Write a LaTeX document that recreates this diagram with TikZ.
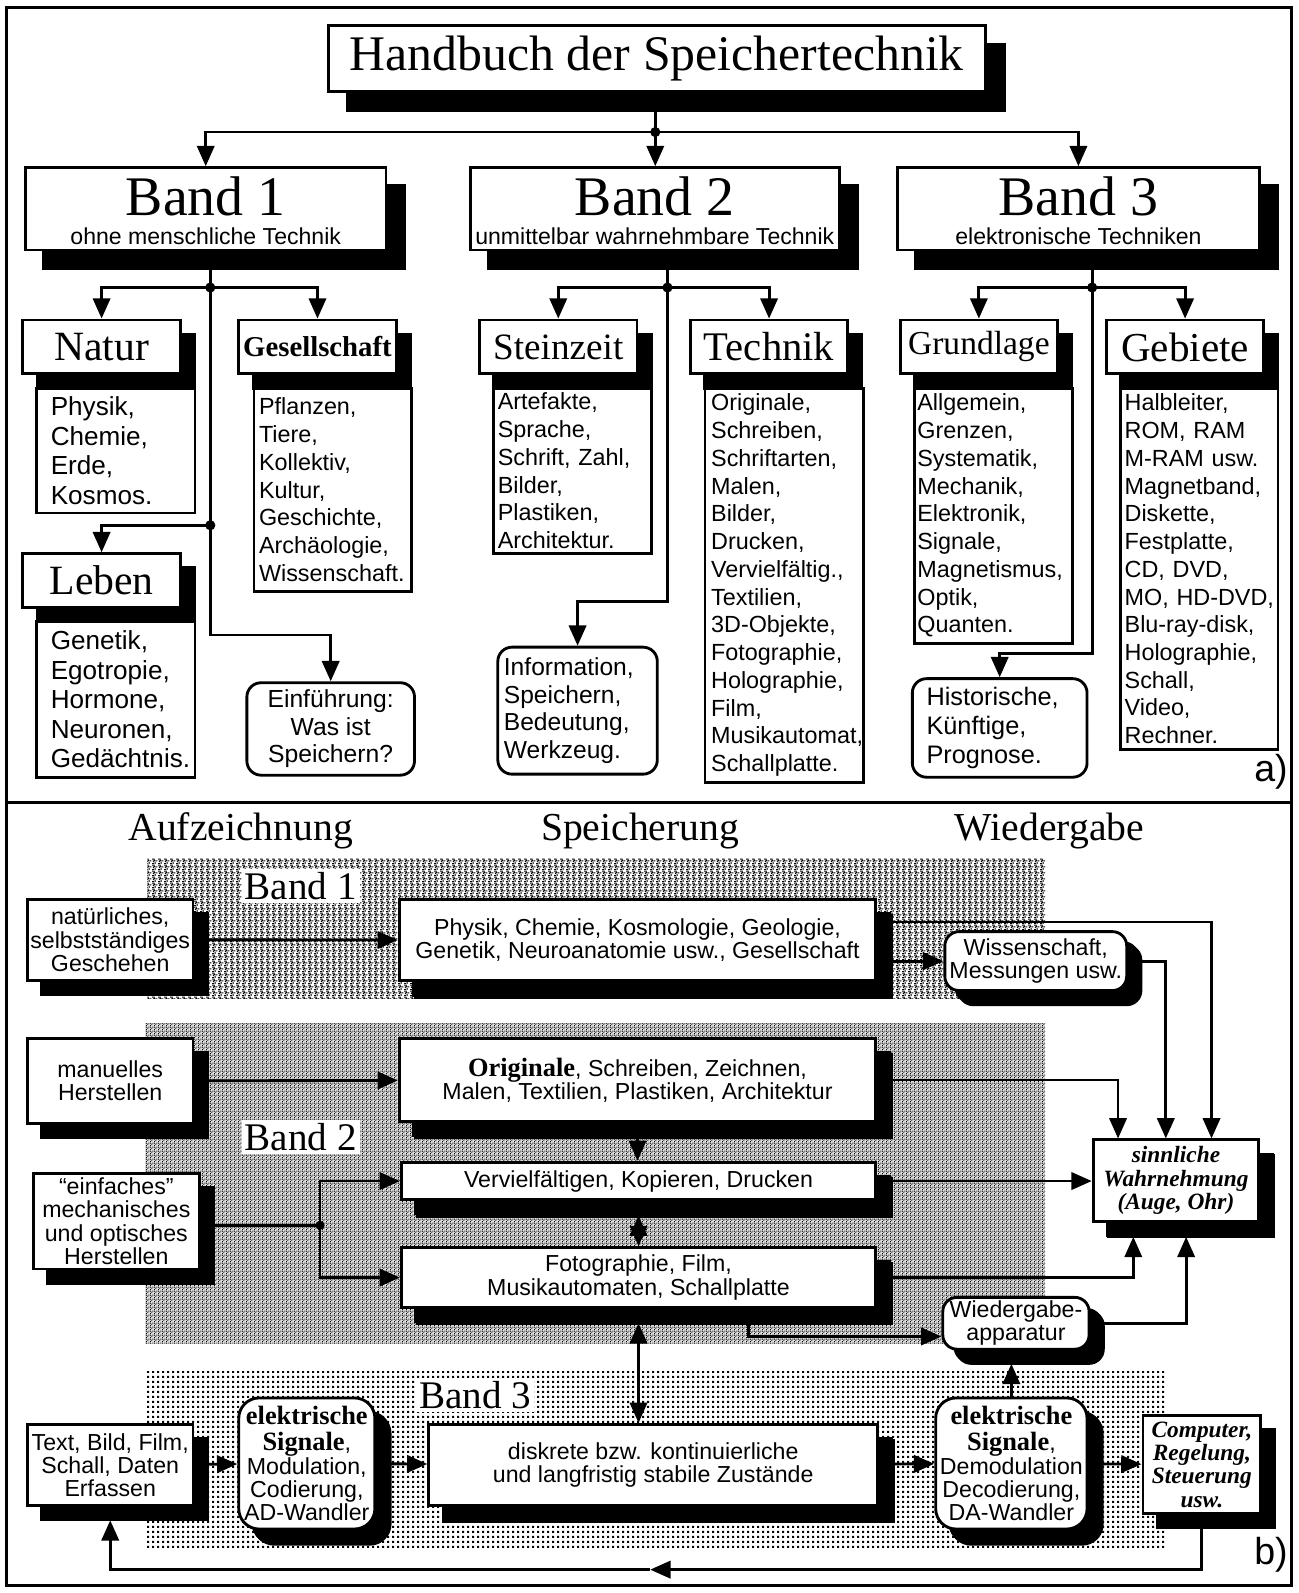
\documentclass[tikz,border=0pt]{standalone}
\usepackage{fontspec}
\setmainfont{Liberation Sans}
\newfontfamily\timesfont{Liberation Serif}
\usetikzlibrary{arrows.meta,patterns}

\pgfdeclarepatternformonly{gridpoints}{\pgfqpoint{0pt}{0pt}}{\pgfqpoint{5pt}{5pt}}{\pgfqpoint{5pt}{5pt}}{%
\pgfpathrectangle{\pgfqpoint{0pt}{0pt}}{\pgfqpoint{2.6pt}{2.6pt}}\pgfusepath{fill}}
\pgfdeclarepatternformonly{finegrain}{\pgfqpoint{0pt}{0pt}}{\pgfqpoint{4pt}{4pt}}{\pgfqpoint{4pt}{4pt}}{%
\pgfpathrectangle{\pgfqpoint{0pt}{0pt}}{\pgfqpoint{1pt}{1pt}}
\pgfpathrectangle{\pgfqpoint{2pt}{1pt}}{\pgfqpoint{1pt}{1pt}}
\pgfpathrectangle{\pgfqpoint{1pt}{2pt}}{\pgfqpoint{1pt}{1pt}}
\pgfpathrectangle{\pgfqpoint{3pt}{3pt}}{\pgfqpoint{1pt}{1pt}}
\pgfpathrectangle{\pgfqpoint{0pt}{3pt}}{\pgfqpoint{1pt}{1pt}}
\pgfusepath{fill}}
\pgfdeclarepatternformonly{speckle}{\pgfqpoint{0pt}{0pt}}{\pgfqpoint{6pt}{6pt}}{\pgfqpoint{6pt}{6pt}}{%
\pgfpathrectangle{\pgfqpoint{0pt}{0pt}}{\pgfqpoint{2pt}{1pt}}
\pgfpathrectangle{\pgfqpoint{3pt}{0pt}}{\pgfqpoint{1pt}{2pt}}
\pgfpathrectangle{\pgfqpoint{1pt}{2pt}}{\pgfqpoint{1pt}{2pt}}
\pgfpathrectangle{\pgfqpoint{4pt}{3pt}}{\pgfqpoint{2pt}{1pt}}
\pgfpathrectangle{\pgfqpoint{0pt}{5pt}}{\pgfqpoint{3pt}{1pt}}
\pgfpathrectangle{\pgfqpoint{2.5pt}{3pt}}{\pgfqpoint{1pt}{1.5pt}}
\pgfusepath{fill}}

\begin{document}
\begin{tikzpicture}[x=1pt,y=-1pt,line width=2.8pt,>={Triangle[length=20pt,width=17pt]}]
\tikzset{box/.style={draw,fill=white,inner sep=0pt,align=center}}
\tikzset{dropped/.style={preaction={fill=black,draw=black,transform canvas={shift={(#1,-#1)}}}},dropped/.default=14pt}
\tikzset{hdr/.style={box,dropped,minimum width=155pt,minimum height=53pt}}
\tikzset{entries/.style={box,align=left,font=\fontsize{23}{27.3}\selectfont\hyphenpenalty10000\relax}}
\tikzset{notebox/.style={box,rounded corners=14pt}}
\tikzset{bandbox/.style={box,dropped=18pt,minimum height=81pt,text height=71pt,text depth=0pt,font=\timesfont\fontsize{55}{29}\selectfont}}
\tikzset{coltitle/.style={font=\timesfont\fontsize{39}{39}\selectfont}}
\tikzset{flowbox/.style={box,dropped,font=\fontsize{22.8}{22.8}\selectfont}}
\tikzset{bandlabel/.style={fill=white,inner sep=3pt,font=\timesfont\fontsize{38.5}{38.5}\selectfont}}
\tikzset{bandone/.style={fill=white,postaction={pattern=speckle}}}
\tikzset{bandtwo/.style={fill=gray!22,postaction={pattern=finegrain}}}
\tikzset{bandthree/.style={pattern=gridpoints}}

\useasboundingbox (0,0) rectangle (1278,1568);
\draw[line width=3pt] (6,7) rectangle (1271,1561);
\draw[line width=3pt] (6,790) -- (1271,790);

\node[box,dropped=19pt,minimum width=647pt,minimum height=65pt,font=\timesfont\fontsize{49}{49}\selectfont] (title) at (646.5,57.5) {Handbuch der Speichertechnik};

\node[bandbox,minimum width=355pt] (band1) at (202.5,205.5) {Band 1\\{\fontsize{22.7}{22.7}\rmfamily\selectfont ohne menschliche Technik}};
\node[bandbox,minimum width=363pt] (band2) at (644.5,205.5) {Band 2\\{\fontsize{22.7}{22.7}\rmfamily\selectfont unmittelbar wahrnehmbare Technik}};
\node[bandbox,minimum width=357pt] (band3) at (1061.5,205.5) {Band 3\\{\fontsize{22.7}{22.7}\rmfamily\selectfont elektronische Techniken}};

\node[hdr,font=\timesfont\fontsize{41}{41}\selectfont] (natur) at (100,341.5) {Natur};
\node[entries,minimum height=123pt,text width=128pt,inner xsep=14pt,font=\fontsize{25.7}{29}\selectfont\hyphenpenalty10000\relax] (naturl) at (114,443.5) {Physik,\\Chemie,\\Erde,\\Kosmos.};
\node[hdr,font=\timesfont\fontsize{41}{41}\selectfont] (leben) at (100,571.5) {Leben};
\node[entries,minimum height=153pt,text width=128pt,inner xsep=14pt,font=\fontsize{25.7}{29}\selectfont\hyphenpenalty10000\relax] (lebenl) at (114,688.5) {Genetik,\\Egotropie,\\Hormone,\\Neuronen,\\Gedächtnis.};
\node[hdr,font=\timesfont\bfseries\fontsize{28.3}{28.3}\selectfont] (gesell) at (312.5,341.5) {Gesellschaft};
\node[entries,minimum height=200pt,text width=145pt,inner xsep=5pt] (gesells) at (327.5,482) {Pflanzen,\\Tiere,\\Kollektiv,\\Kultur,\\Geschichte,\\Archäologie,\\Wissenschaft.};
\node[notebox,minimum width=165pt,minimum height=91pt,font=\fontsize{24.3}{27}\selectfont] (einf) at (325.5,717.5) {Einführung:\\Was ist\\Speichern?};

\node[hdr,font=\timesfont\fontsize{36.6}{36.6}\selectfont] (stein) at (549.5,341.5) {Steinzeit};
\node[entries,minimum height=163pt,text width=147pt,inner xsep=4pt] (steinl) at (563.5,463.5) {Artefakte,\\Sprache,\\Schrift, Zahl,\\Bilder,\\Plastiken,\\Architektur.};
\node[notebox,align=left,minimum height=125pt,text width=145pt,inner xsep=6pt,font=\fontsize{24.2}{27.5}\selectfont\hyphenpenalty10000\relax] (info) at (568.5,699.5) {Information,\\Speichern,\\Bedeutung,\\Werkzeug.};
\node[hdr,font=\timesfont\fontsize{40}{40}\selectfont] (technik) at (757,341.5) {Technik};
\node[entries,minimum height=388pt,text width=144pt,inner xsep=6pt] (technikl) at (772,576) {Originale,\\Schreiben,\\Schriftarten,\\Malen,\\Bilder,\\Drucken,\\Vervielfältig.,\\Textilien,\\3D-Objekte,\\Fotographie,\\Holographie,\\Film,\\Musikautomat,\\Schallplatte.};

\node[hdr,font=\timesfont\fontsize{33}{33}\selectfont] (grund) at (963.5,341.5) {Grundlage};
\node[entries,minimum height=251pt,text width=150pt,inner xsep=3pt] (grundl) at (978,507.5) {Allgemein,\\Grenzen,\\Systematik,\\Mechanik,\\Elektronik,\\Signale,\\Magnetismus,\\Optik,\\Quanten.};
\node[notebox,align=left,minimum height=97pt,text width=144pt,inner xsep=14pt,font=\fontsize{24.9}{28.5}\selectfont\hyphenpenalty10000\relax] (hist) at (984,716.5) {Historische,\\Künftige,\\Prognose.};
\node[hdr,font=\timesfont\fontsize{40.5}{40.5}\selectfont] (gebiete) at (1166.5,341.5) {Gebiete};
\node[entries,minimum height=356pt,text width=147pt,inner xsep=4pt] (gebietel) at (1180.5,560) {Halbleiter,\\ROM, RAM\\M-RAM usw.\\Magnetband,\\Diskette,\\Festplatte,\\CD, DVD,\\MO, HD-DVD,\\Blu-ray-disk,\\Holographie,\\Schall,\\Video,\\Rechner.};

\node[font=\fontsize{37}{37}\selectfont] (parta) at (1251,760) {a)};

\coordinate (j0) at (645,130);
\draw (title.south -| j0) -- (j0);
\draw[->] (j0) -| (band1);
\draw[->] (j0) -- (j0 |- band2.north);
\draw[->] (j0) -| (band3);
\fill (j0) circle (5pt);

\coordinate (j1) at (207,283);
\coordinate (j1b) at (207,517);
\draw (band1.south -| j1) -- (j1) -- (j1b);
\draw[->] (j1) -| (natur);
\draw[->] (j1) -| (gesell);
\draw[->] (j1b) -| (leben);
\draw[->] (j1b) -- ++(0,108) -| (einf);
\fill (j1) circle (5pt);
\fill (j1b) circle (5pt);

\coordinate (j2) at (657,283);
\draw (band2.south -| j2) -- (j2);
\draw[->] (j2) -| (stein);
\draw[->] (j2) -| (technik);
\draw[->] (j2) -- ++(0,309) -| (info);
\fill (j2) circle (5pt);

\coordinate (j3) at (1075,283);
\draw (band3.south -| j3) -- (j3);
\draw[->] (j3) -| (grund);
\draw[->] (j3) -| (gebiete);
\draw[->] (j3) -- ++(0,360) -| (hist);
\fill (j3) circle (5pt);

\path[bandone] (145,845) rectangle (1029,983);
\path[bandtwo] (143,1007) rectangle (1029,1322);
\path[bandthree] (143,1350) rectangle (1148,1524);

\node[coltitle] (aufz) at (237,818) {Aufzeichnung};
\node[coltitle] (speich) at (630,818) {Speicherung};
\node[coltitle] (wiedg) at (1033,818) {Wiedergabe};
\node[bandlabel] (lab1) at (296,872) {Band 1};
\node[bandlabel] (lab2) at (296,1119) {Band 2};
\node[bandlabel] (lab3) at (468,1373) {Band 3};

\node[flowbox,minimum width=163pt,minimum height=80pt] (nat) at (108.5,925) {natürliches,\\selbstständiges\\Geschehen};
\node[flowbox,dropped=16pt,minimum width=469pt,minimum height=80pt] (phys) at (627.5,925.5) {Physik, Chemie, Kosmologie, Geologie,\\Genetik, Neuroanatomie usw., Gesellschaft};
\node[flowbox,rounded corners=14pt,dropped=11pt,minimum width=179pt,minimum height=58pt] (wiss) at (1019.5,946) {Wissenschaft,\\Messungen usw.};
\node[flowbox,minimum width=163pt,minimum height=84pt] (manu) at (108.5,1064) {manuelles\\Herstellen};
\node[flowbox,dropped=16pt,minimum width=469pt,minimum height=82pt] (orig) at (627.5,1063) {{\timesfont\bfseries\fontsize{26}{26}\selectfont Originale}, Schreiben, Zeichnen,\\Malen, Textilien, Plastiken, Architektur};
\node[flowbox,dropped=16pt,minimum width=467pt,minimum height=37pt] (verv) at (628.5,1162.5) {Vervielfältigen, Kopieren, Drucken};
\node[flowbox,minimum width=163pt,minimum height=94pt] (einf2) at (114.5,1202) {“einfaches”\\mechanisches\\und optisches\\Herstellen};
\node[flowbox,dropped=16pt,minimum width=467pt,minimum height=59pt] (foto) at (628.5,1257.5) {Fotographie, Film,\\Musikautomaten, Schallplatte};
\node[flowbox,dropped=15pt,minimum width=163pt,minimum height=80pt,font=\timesfont\bfseries\itshape\fontsize{23}{23}\selectfont] (sinn) at (1157.5,1162) {sinnliche\\Wahrnehmung\\(Auge, Ohr)};
\node[flowbox,rounded corners=14pt,dropped=12pt,minimum width=144pt,minimum height=51pt] (wapp) at (1000,1302.5) {Wiedergabe-\\apparatur};
\node[flowbox,minimum width=163pt,minimum height=80pt] (textin) at (108.5,1442) {Text, Bild, Film,\\Schall, Daten\\Erfassen};
\node[flowbox,rounded corners=20pt,dropped=15pt,minimum width=134pt,minimum height=129pt] (elek1) at (302,1440.5) {{\timesfont\bfseries\fontsize{26}{26}\selectfont elektrische}\\[3pt]{\timesfont\bfseries\fontsize{26}{26}\selectfont Signale},\\Modulation,\\Codierung,\\AD-Wandler};
\node[flowbox,dropped=16pt,minimum width=442pt,minimum height=80pt] (disk) at (643,1442) {diskrete bzw. kontinuierliche\\und langfristig stabile Zustände};
\node[flowbox,rounded corners=20pt,dropped=15pt,minimum width=149pt,minimum height=129pt] (elek2) at (995.5,1440.5) {{\timesfont\bfseries\fontsize{26}{26}\selectfont elektrische}\\[3pt]{\timesfont\bfseries\fontsize{26}{26}\selectfont Signale},\\Demodulation\\Decodierung,\\DA-Wandler};
\node[flowbox,minimum width=116pt,minimum height=97pt,font=\timesfont\bfseries\itshape\fontsize{23}{23}\selectfont] (comp) at (1183,1441.5) {Computer,\\Regelung,\\Steuerung\\usw.};

\node[font=\fontsize{37}{37}\selectfont] (partb) at (1251,1530) {b)};

\draw[->] (nat) -- (phys);
\draw[->] ([yshift=18pt]phys.east) -| ([xshift=35pt]sinn.north);
\draw[->] (wiss.west -| phys.east) -- (wiss.west);
\draw[->] (wiss.east) -| ([xshift=-10pt]sinn.north);
\draw[->] (manu) -- (orig);
\draw[->] (orig.east) -| ([xshift=-57pt]sinn.north);
\draw[->] (orig.south) -- (orig.south |- verv.north);
\draw[<->] ([yshift=-14pt]verv.south) -- (verv.south |- foto.north);
\draw[->] (verv.east) -- (verv.east -| sinn.west);
\coordinate (jb) at (315,1206);
\draw (einf2.east |- jb) -- (jb);
\draw[->] (jb) |- (verv.west);
\draw[->] (jb) |- (foto.west);
\fill (jb) circle (4.5pt);
\draw[->] (foto.east) -| ([xshift=-42pt,yshift=-14pt]sinn.south);
\draw[->] ([xshift=108pt]foto.south) |- ([yshift=-13pt]wapp.west);
\draw[->] (wapp.east) -| ([xshift=10pt,yshift=-14pt]sinn.south);
\draw[<->] ([yshift=-14pt]foto.south) -- (foto.south |- disk.north);
\draw[->] (textin) -- (elek1);
\draw[->] (elek1) -- (disk);
\draw[->] (disk) -- (elek2);
\draw[->] (elek2) -- (comp);
\coordinate (wappbase) at ([yshift=-13pt]wapp.south);
\draw[->] (elek2.north) -- (elek2.north |- wappbase);
\coordinate (loopmid) at (640,1545);
\draw[->] (comp.south) |- (loopmid);
\draw[->] (loopmid) -| ([yshift=-13pt]textin.south);

\end{tikzpicture}
\end{document}
